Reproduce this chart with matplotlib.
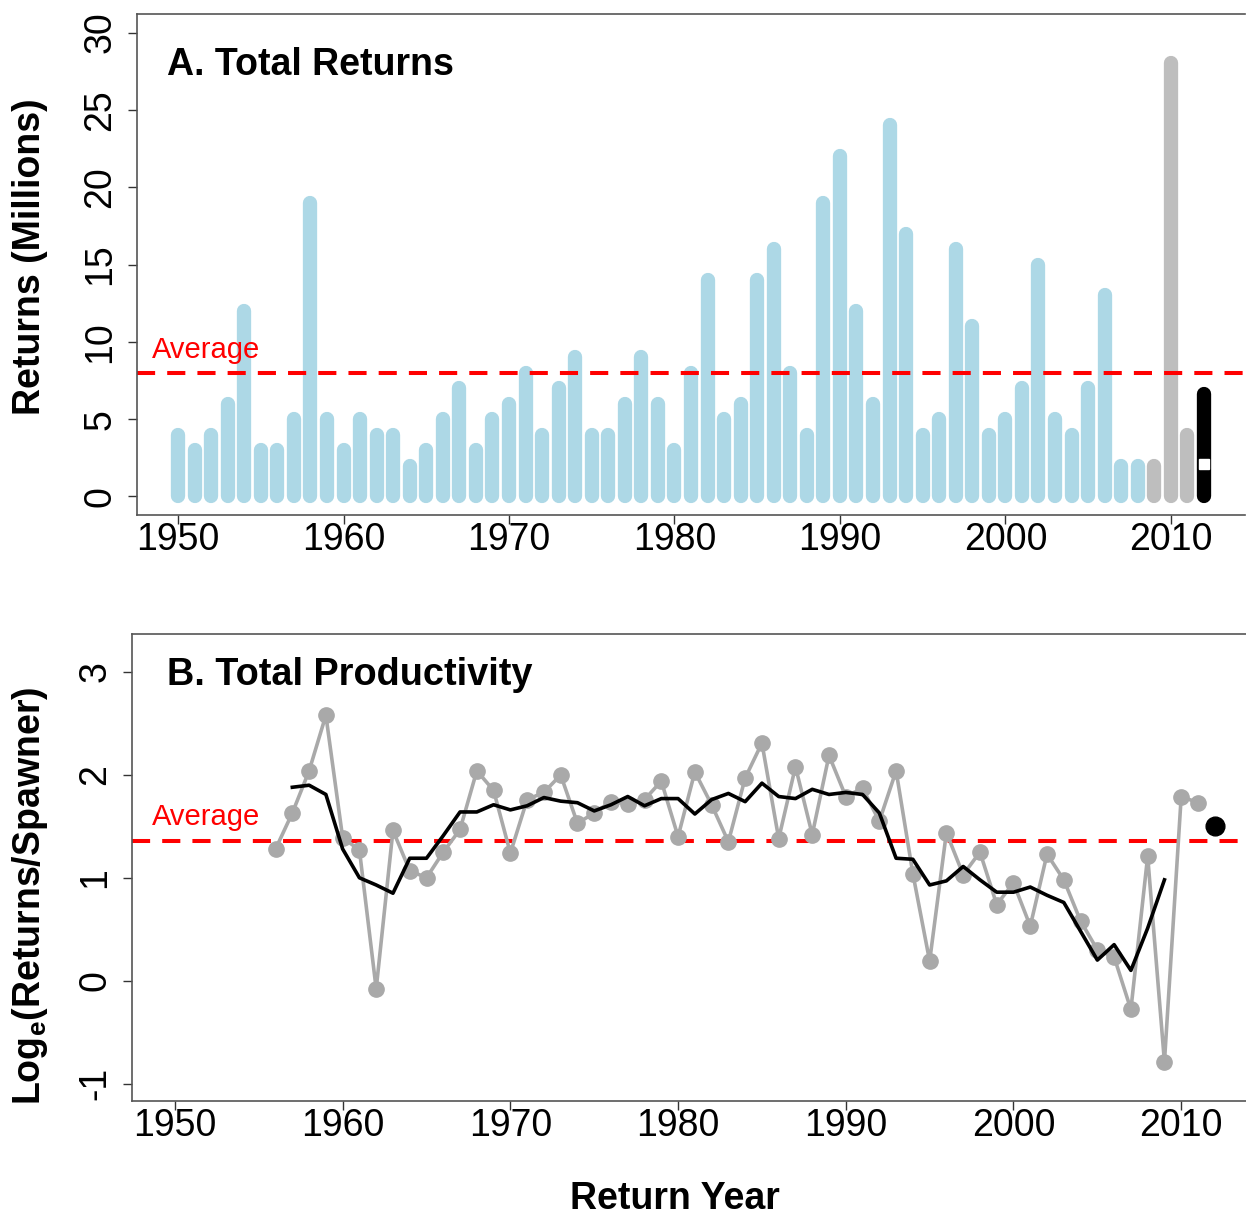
import matplotlib
matplotlib.use("Agg")
import matplotlib.pyplot as plt

plt.rcParams['font.family'] = ['Liberation Sans', 'DejaVu Sans']
plt.rcParams['mathtext.fontset'] = 'custom'
plt.rcParams['mathtext.rm'] = 'Liberation Sans'
plt.rcParams['mathtext.bf'] = 'Liberation Sans:bold'
plt.rcParams['axes.unicode_minus'] = False

# A. total returns (millions) by return year
ret_years = list(range(1950, 2013))
returns = [4, 3, 4, 6, 12, 3, 3, 5, 19, 5,
           3, 5, 4, 4, 2, 3, 5, 7, 3, 5,
           6, 8, 4, 7, 9, 4, 4, 6, 9, 6,
           3, 8, 14, 5, 6, 14, 16, 8, 4, 19,
           22, 12, 6, 24, 17, 4, 5, 16, 11, 4,
           5, 7, 15, 5, 4, 7, 13, 2, 2, 2,
           28, 4, 6.6]
forecast_year = 2012
forecast_ret = 2.1
avg_ret = 8.0

# B. log productivity
prod_years = list(range(1956, 2012))
prod = [1.28, 1.63, 2.04, 2.58, 1.39, 1.27, -0.08, 1.46, 1.07, 1.00,
        1.25, 1.47, 2.04, 1.85, 1.24, 1.76, 1.83, 2.00, 1.53, 1.63,
        1.74, 1.72, 1.76, 1.94, 1.40, 2.03, 1.71, 1.35, 1.97, 2.31,
        1.38, 2.08, 1.42, 2.19, 1.79, 1.87, 1.55, 2.04, 1.04, 0.19,
        1.44, 1.03, 1.25, 0.74, 0.95, 0.53, 1.23, 0.98, 0.58, 0.30,
        0.23, -0.28, 1.21, -0.79, 1.79, 1.73]
smooth_years = list(range(1957, 2010))
smooth = [1.88, 1.90, 1.81, 1.28, 1.00, 0.93, 0.85, 1.19, 1.19, 1.41,
          1.64, 1.64, 1.71, 1.66, 1.70, 1.78, 1.745, 1.73, 1.65, 1.71,
          1.79, 1.70, 1.77, 1.77, 1.62, 1.76, 1.82, 1.74, 1.92, 1.79,
          1.77, 1.86, 1.81, 1.83, 1.81, 1.63, 1.19, 1.18, 0.93, 0.97,
          1.11, 0.98, 0.86, 0.86, 0.91, 0.83, 0.76, 0.48, 0.20, 0.35,
          0.10, 0.51, 0.98]
prod_2012 = 1.50
avg_prod = 1.36

W, H = 1246, 1220
fig = plt.figure(figsize=(W / 100, H / 100), dpi=100)

spine_col = '#555555'
fs = 27

def style_axes(ax):
    for s in ['left', 'bottom', 'top']:
        ax.spines[s].set_color(spine_col)
        ax.spines[s].set_linewidth(1.2)
    ax.spines['right'].set_visible(False)
    ax.tick_params(axis='both', direction='out', length=6.5, width=1.0,
                   color='#333333', labelsize=fs)
    ax.tick_params(axis='x', pad=-1.5)
    ax.tick_params(axis='y', pad=7, labelrotation=90)
    for lbl in ax.get_yticklabels():
        lbl.set_va('center')

# ---- panel A
ax1 = fig.add_axes([137 / W, 1 - 515 / H, 1108 / W, 501 / H])
cols = []
for y in ret_years:
    if y >= 2012:
        cols.append('black')
    elif y >= 2009:
        cols.append('#BEBEBE')
    else:
        cols.append('#ADD8E6')
ax1.vlines(ret_years, 0, returns, colors=cols, linewidth=10.3, capstyle='round')
ax1.plot([forecast_year], [forecast_ret], marker='s', ms=7.5, color='white', mec='white', ls='none')
ax1.axhline(avg_ret, color='red', lw=2.9, dashes=(4.5, 3.0))
ax1.text(1948.4, 9.5, 'Average', color='red', fontsize=21, ha='left', va='center')
ax1.text(0.027, 0.898, 'A. Total Returns', transform=ax1.transAxes, fontsize=27,
         fontweight='bold', ha='left', va='center')
ax1.set_xlim(1947.52, 2014.48)
ax1.set_ylim(-1.2, 31.2)
ax1.set_xticks(range(1950, 2011, 10))
ax1.set_yticks(range(0, 31, 5))
style_axes(ax1)

# ---- panel B
ax2 = fig.add_axes([132 / W, 1 - 1101 / H, 1123 / W, 467 / H])
ax2.axhline(avg_prod, color='red', lw=2.9, dashes=(4.5, 3.0), zorder=1)
ax2.plot(prod_years, prod, color='#A9A9A9', lw=2.6, marker='o', ms=11, zorder=2)
ax2.plot(smooth_years, smooth, color='black', lw=2.6, zorder=3)
ax2.plot([2012], [prod_2012], marker='o', ms=13.5, color='black', ls='none', zorder=4)
ax2.text(1948.6, 1.59, 'Average', color='red', fontsize=21, ha='left', va='center')
ax2.text(0.031, 0.913, 'B. Total Productivity', transform=ax2.transAxes, fontsize=27.3,
         fontweight='bold', ha='left', va='center')
ax2.set_xlim(1947.44, 2014.4)
ax2.set_ylim(-1.17, 3.37)
ax2.set_xticks(range(1950, 2011, 10))
ax2.set_yticks(range(-1, 4))
style_axes(ax2)

fig.text(30 / W, 1 - 257 / H, 'Returns (Millions)', rotation=90, fontsize=27,
         fontweight='bold', ha='center', va='center')
fig.text(30 / W, 1 - 896 / H, r'Log$_\mathbf{e}$(Returns/Spawner)', rotation=90, fontsize=27,
         fontweight='bold', ha='center', va='center')
fig.text(675 / W, 1 - 1217 / H, 'Return Year', fontsize=27, fontweight='bold',
         ha='center', va='bottom')

fig.savefig('out.png', dpi=100)
